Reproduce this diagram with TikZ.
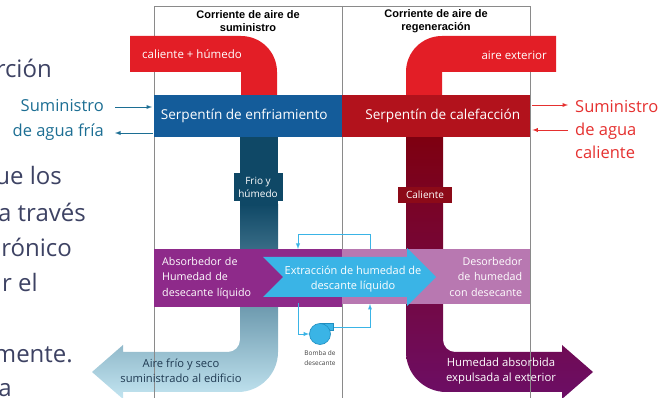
\documentclass[tikz,border=0pt]{standalone}
\usepackage{fontspec}
\setmainfont{Open Sans}
\newfontfamily\kopffont{Liberation Sans}
\usepackage{tikz}
\usepackage{xcolor}

\definecolor{folie}{HTML}{3D4263}
\definecolor{heiss}{HTML}{E31E26}
\definecolor{kuehlblau}{HTML}{145C9A}
\definecolor{heizrot}{HTML}{B2121C}
\definecolor{navy}{HTML}{0F4866}
\definecolor{hellblau}{HTML}{C3E5F1}
\definecolor{mittelblau}{HTML}{78B6D0}
\definecolor{dunkelrot}{HTML}{7E0010}
\definecolor{calbox}{HTML}{8C0A18}
\definecolor{pflaume}{HTML}{6C0E66}
\definecolor{absorb}{HTML}{8E2A8A}
\definecolor{desorb}{HTML}{B878B1}
\definecolor{cyanp}{HTML}{3AB4E6}
\definecolor{cyandunkel}{HTML}{1F8EC0}
\definecolor{wasserblau}{HTML}{1C6E93}
\definecolor{wasserrot}{HTML}{E5302F}
\definecolor{rahmengrau}{HTML}{8A8A8A}
\definecolor{schriftblau}{HTML}{1F3A52}

\begin{document}
\begin{tikzpicture}[x=1pt, y=-1pt,
	etikett/.style={text=white, align=center, inner sep=1pt,
		font=\fontsize{11.5}{15.5}\selectfont},
	kopf/.style={align=center, inner sep=0pt,
		font=\kopffont\bfseries\fontsize{11}{13}\selectfont},
	spule/.style={minimum width=188pt, minimum height=42pt, inner sep=0pt,
		anchor=north west, text=white, font=\fontsize{13.6}{15}\selectfont},
	kasten/.style={minimum width=188pt, minimum height=54pt, inner sep=8pt,
		anchor=north west, text=white, text width=172pt,
		font=\fontsize{10.7}{15.5}\selectfont},
	folientext/.style={anchor=base east, inner sep=0pt, text=folie,
		font=\fontsize{24}{28}\selectfont},
	wasser/.style={align=left, inner sep=0pt},
	rahmen/.style={rahmengrau, line width=0.9pt},
	kreislauf/.style={cyanp, line width=0.9pt, -latex},
]
	\useasboundingbox (0,0) rectangle (665,398);
	\clip (0,0) rectangle (665,398);
	% text der folie im hintergrund
	\node[folientext] (f1) at (52,78) {rción};
	\node[folientext] (f2) at (62,185) {ue los};
	\node[folientext] (f3) at (86,222) {a través};
	\node[folientext] (f4) at (72,257) {rónico};
	\node[folientext] (f5) at (38,292) {r el};
	\node[folientext] (f6) at (73,363) {mente.};
	\node[folientext] (f7) at (12,397) {a};
	% untere rohre mit verlauf
	\shade[top color=navy, middle color=mittelblau, bottom color=hellblau]
		(240,204) -- (240,340) .. controls (240,346.6) and (234.6,352) .. (228,352)
		-- (123,352) -- (123,345) -- (92,372) -- (123,399) -- (123,392)
		-- (238,392) .. controls (260,392) and (278,374) .. (278,352)
		-- (278,204) -- cycle;
	\shade[top color=dunkelrot, bottom color=pflaume]
		(406,137) -- (406,352) .. controls (406,374) and (424,392) .. (446,392)
		-- (562,392) -- (562,399) -- (593,372) -- (562,345) -- (562,352)
		-- (455,352) .. controls (448.4,352) and (443,346.6) .. (443,340)
		-- (443,137) -- cycle;
	% rahmen der beiden luftstroeme
	\draw[rahmen] (154,398) -- (154,6) -- (530,6) -- (530,398);
	\draw[rahmen] (342,6) -- (342,398);
	\node[kopf] (kopfL) at (248,21) {Corriente de aire de\\suministro};
	\node[kopf] (kopfR) at (436,21) {Corriente de aire de\\regeneración};
	% zuluft oben
	\fill[heiss] (130,36) -- (241,36) .. controls (261,36) and (277,52) .. (277,72)
		-- (277,96) -- (241,96) -- (241,72) -- (130,72) -- cycle;
	\fill[heiss] (556,36) -- (442,36) .. controls (422,36) and (406,52) .. (406,72)
		-- (406,96) -- (442,96) -- (442,72) -- (556,72) -- cycle;
	\node[etikett] (einlass) at (192,54) {caliente + húmedo};
	\node[etikett, anchor=east] (aussen) at (548,55) {aire exterior};
	% senkrechtes stueck unter der kuehlspule
	\fill[navy] (240,136) rectangle (278,206);
	\node[etikett, fill=navy, minimum width=49pt, minimum height=28pt,
		font=\fontsize{10}{13}\selectfont] (frio) at (258,187) {Frio y\\húmedo};
	\node[etikett, fill=calbox, minimum width=54pt, minimum height=16pt,
		font=\fontsize{10}{13}\selectfont] (caliente) at (425,195) {Caliente};
	% die beiden spulen
	\node[spule, fill=kuehlblau] (kuehl) at (154,95)
		{\hspace*{-8pt}Serpentín de enfriamiento};
	\node[spule, fill=heizrot] (heiz) at (342,95)
		{\hspace*{13pt}Serpentín de calefacción};
	% absorber und desorber
	\node[kasten, fill=absorb, align=left] (absorber) at (154,249)
		{Absorbedor de\\Humedad de\\desecante líquido};
	\node[kasten, fill=desorb, align=right] (desorber) at (342,249)
		{Desorbedor\\de humedad\\con desecante};
	% grosser pfeil dazwischen
	\fill[cyanp] (263,257) -- (407,257) -- (407,248) -- (436,277) -- (407,306)
		-- (407,297) -- (263,297) -- (283,277) -- cycle;
	\node[etikett, font=\fontsize{11}{14.5}\selectfont] (extraktion) at (353,279)
		{Extracción de humedad de\\descante líquido};
	% kreislauf mit pumpe
	\node[fill=cyanp, draw=cyandunkel, line width=0.6pt, minimum width=13pt,
		minimum height=7pt, inner sep=0pt] (auslass) at (327,327) {};
	\node[circle, fill=cyanp, draw=cyandunkel, line width=0.6pt,
		minimum size=21pt, inner sep=0pt] (pumpe) at (320,334) {};
	\node[align=center, inner sep=0pt, text=black!75,
		font=\fontsize{6.5}{10}\selectfont] (bomba) at (320,358) {Bomba de\\desecante};
	\coordinate (obenR) at (370,249);
	\coordinate (obenL) at (298,249);
	\coordinate (untenL) at (298,303);
	\coordinate (untenR) at (370,304);
	\draw[kreislauf] (obenR) -- ++(0,-15) -| (obenL);
	\draw[kreislauf] (untenL) |- (pumpe.west);
	\draw[kreislauf] (auslass.east) -| (untenR);
	% wasseranschluesse
	\node[wasser, text=wasserblau, align=right, anchor=east,
		font=\fontsize{16.5}{25}\selectfont] (kalt) at (104,120)
		{Suministro\\de agua fría};
	\node[wasser, text=wasserrot, anchor=west,
		font=\fontsize{16.5}{23}\selectfont] (warm) at (575,130)
		{Suministro\\de agua\\caliente};
	\coordinate (kz) at (115,107);
	\coordinate (kr) at (115,133);
	\coordinate (wz) at (568,105);
	\coordinate (wr) at (568,130);
	\draw[wasserblau, line width=0.9pt, -latex] (kz) -- ([xshift=-2pt]kz -| kuehl.west);
	\draw[wasserblau, line width=0.9pt, -latex] ([xshift=-1pt]kr -| kuehl.west) -- (kr);
	\draw[wasserrot, line width=0.9pt, -latex] ([xshift=2pt]wz -| heiz.east) -- (wz);
	\draw[wasserrot, line width=0.9pt, -latex] (wr) -- ([xshift=2pt]wr -| heiz.east);
	% beschriftung der auslaesse
	\node[etikett, text=schriftblau, font=\fontsize{11.2}{15.5}\selectfont] (zuluft)
		at (181,371) {Aire frío y seco\\suministrado al edificio};
	\node[etikett, font=\fontsize{11.3}{15.5}\selectfont] (abluft) at (501,371)
		{Humedad absorbida\\expulsada al exterior};
\end{tikzpicture}
\end{document}
